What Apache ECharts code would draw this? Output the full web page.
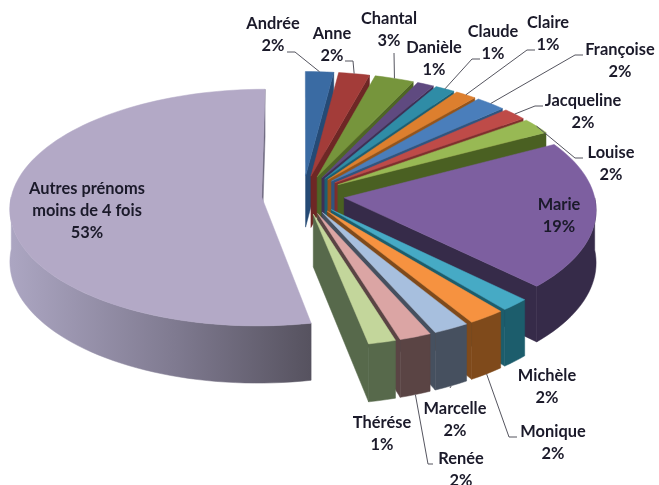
<!DOCTYPE html>
<html>
<head>
<meta charset="utf-8">
<style>html,body{margin:0;padding:0;background:#fff}#c{width:659px;height:485px}</style>
<script src="https://cdn.jsdelivr.net/npm/echarts@6/dist/echarts.min.js"></script>
</head>
<body>
<div id="c"></div>
<script>
// Data
const names = ['Andrée','Anne','Chantal','Danièle','Claude','Claire','Françoise','Jacqueline','Louise','Marie','Michèle','Monique','Marcelle','Renée','Thérése','Autres prénoms\nmoins de 4 fois'];
const values = [2.0,2.2,2.8,1.2,1.4,1.5,2.15,1.7,2.2,20.3,1.7,2.17,2.1,1.86,1.6,53.12];
const percentLabels = ['2%','2%','3%','1%','1%','1%','2%','2%','2%','19%','2%','2%','2%','2%','1%','53%'];

// Styles
const topColors = ['#3a6ba3','#a33c39','#76953c','#5f4a80','#2f8ca6','#dd7f2e','#4a7ebb','#be4b48','#98b954','#7d5fa0','#46aac5','#f69240','#a7bfde','#dba5a4','#c3d69b','#b3a9c6'];
const wallColors = ['#254a75','#6e2725','#4f6625','#3f3056','#1d5f72','#95541a','#2f5580','#7f2f2d','#4a6022','#362b49','#1c5d6c','#7f4a1b','#46505f','#5a4444','#57694b','#8a8499'];
// Label layout: centre of first line, and the fixed part of each leader line
const labelX = [273,332,389,434,493,548,620,583,611,559,547,553,455,461,382,87];
const labelY = [24,34,19,48,32,23,50,101,153,205,376,432,409,459,423,189];
const leaderStart = [[287,52,295,52],[345,61,353,61],[394,53,394,53],null,[480,59,472,59],[535,50,527,50],[583,55,575,55],[543,106,535,106],[583,158,575,158],null,null,[517,437,509,437],[450,388,450,388],[433,464,428,464],null,null];

// 3D projection parameters
const CX = 303, CY = 195, RX = 250, RY = 117, PERSP = 0.09, EXPLODE = 0.166, DEPTH = 52;
const RAD = Math.PI / 180;
const total = values.reduce((a, b) => a + b, 0);
const startAngles = [];
values.reduce((acc, v, i) => { startAngles[i] = acc; return acc + v / total * 360; }, 0);

function project(i, deg, r, z) {
  const span = values[i] / total * 360;
  const bis = (startAngles[i] + span / 2) * RAD;
  const t = deg * RAD;
  const u = r * Math.sin(t) + EXPLODE * Math.sin(bis);
  const v = -r * Math.cos(t) - EXPLODE * Math.cos(bis);
  const s = 1 / (1 - PERSP * v);
  return [CX + RX * u * s, CY + RY * v * s + z * DEPTH * s];
}
function arc(i, a0, a1, z) {
  const pts = [], n = Math.max(2, Math.ceil(Math.abs(a1 - a0) / 2));
  for (let k = 0; k <= n; k++) pts.push(project(i, a0 + (a1 - a0) * k / n, 1, z));
  return pts;
}
function poly(points, fill) {
  return { type: 'polygon', silent: true, shape: { points }, style: { fill, stroke: fill, lineWidth: 0.5 } };
}

function renderSlice(params, api) {
  const i = api.value(0);
  const a0 = startAngles[i], a1 = a0 + api.value(1) / total * 360;
  const kids = [];
  const isBig = a1 - a0 > 180;
  const wall = wallColors[i];
  const apexT = project(i, 0, 0, 0), apexB = project(i, 0, 0, 1);
  // radial walls that face the viewer
  if (Math.sin(a0 * RAD) < 0) {
    kids.push(poly([apexT, project(i, a0, 1, 0), project(i, a0, 1, 1), apexB], wall));
  }
  if (Math.sin(a1 * RAD) > -0.001) {
    const w = isBig ? '#6f6a80' : wall;
    kids.push(poly([apexT, project(i, a1, 1, 0), project(i, a1, 1, 1), apexB], w));
  }
  // outer wall on the front half
  const f0 = Math.max(a0, 90), f1 = Math.min(a1, 270);
  if (f1 > f0) {
    const fill = isBig
      ? new echarts.graphic.LinearGradient(1, 0, 0, 0, [
          { offset: 0, color: '#56525f' }, { offset: 0.45, color: '#7f7a90' }, { offset: 1, color: '#aca6c2' }])
      : wall;
    kids.push(poly(arc(i, f0, f1, 0).concat(arc(i, f1, f0, 1)), fill));
  }
  // top face
  kids.push(poly([apexT].concat(arc(i, a0, a1, 0)), topColors[i]));
  return { type: 'group', children: kids };
}

function renderLabel(params, api) {
  const i = api.value(0);
  const kids = [];
  const a0 = startAngles[i], mid = a0 + api.value(1) / total * 180;
  const ls = leaderStart[i];
  if (ls) {
    const front = mid > 90 && mid < 270;
    const end = project(i, mid, 1, front ? 1 : 0);
    kids.push({ type: 'polyline', silent: true, shape: { points: [[ls[0], ls[1]], [ls[2], ls[3]], end] },
      style: { fill: 'none', stroke: '#55555f', lineWidth: 1 } });
  }
  const text = names[i] + '\n' + percentLabels[i];
  const lines = text.split('\n');
  lines.forEach((t, k) => kids.push({
    type: 'text', silent: true,
    style: { text: t, x: labelX[i], y: labelY[i] + k * 22, align: 'center', verticalAlign: 'middle',
      fill: '#1b1a2a', font: 'bold 16.4px Lato, "Open Sans", sans-serif' }
  }));
  return { type: 'group', children: kids };
}

const seriesData = values.map((v, i) => [i, v]);
const chart = echarts.init(document.getElementById('c'), null, { renderer: 'canvas' });
chart.setOption({
  animation: false,
  backgroundColor: '#ffffff',
  series: [
    { type: 'custom', coordinateSystem: 'none', name: 'Prénoms', data: seriesData, renderItem: renderSlice, z: 2, silent: true },
    { type: 'custom', coordinateSystem: 'none', name: 'Étiquettes', data: seriesData, renderItem: renderLabel, z: 5, silent: true }
  ]
});
</script>
</body>
</html>
